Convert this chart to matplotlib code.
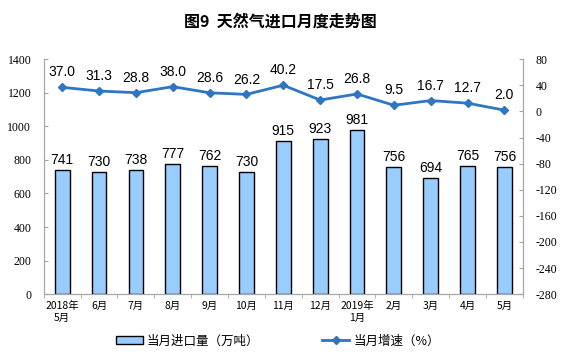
import matplotlib.pyplot as plt
import numpy as np

# Data
months = ['2018年\n5月', '6月', '7月', '8月', '9月', '10月', '11月', '12月',
          '2019年\n1月', '2月', '3月', '4月', '5月']
imports = [741, 730, 738, 777, 762, 730, 915, 923, 981, 756, 694, 765, 756]
growth = [37.0, 31.3, 28.8, 38.0, 28.6, 26.2, 40.2, 17.5, 26.8, 9.5, 16.7, 12.7, 2.0]

cjk = ['Noto Sans CJK SC', 'DejaVu Sans']
plt.rcParams['font.family'] = cjk
plt.rcParams['axes.unicode_minus'] = False

bar_color = '#99CCFF'
line_color = '#2E75C2'
spine_color = '#A6A6A6'

fig = plt.figure(figsize=(5.61, 3.57), dpi=100)
ax = fig.add_axes([0.078, 0.176, 0.854, 0.658])
ax2 = ax.twinx()

x = np.arange(len(months))
bars = ax.bar(x, imports, width=0.4, color=bar_color, edgecolor='black', linewidth=1.0,
              label='当月进口量（万吨）', zorder=2)
for xi, v in zip(x, imports):
    ax.text(xi, v + 18, str(v), ha='center', va='bottom', fontsize=10,
            family='Liberation Sans')

line, = ax2.plot(x, growth, color=line_color, linewidth=2, marker='D', markersize=4.5,
                 label='当月增速（%）', zorder=3)
for xi, v in zip(x, growth):
    ax2.text(xi, v + 12, f'{v:.1f}', ha='center', va='bottom', fontsize=10,
             family='Liberation Sans')

ax.set_xlim(-0.5, len(months) - 0.5)
ax.set_ylim(0, 1400)
ax.set_yticks(range(0, 1401, 200))
ax2.set_ylim(-280, 80)
ax2.set_yticks(range(-280, 81, 40))

ax.set_xticks(x)
ax.set_xticklabels(months, fontsize=7.5)
ax.set_xticks(np.arange(-0.5, len(months), 1), minor=True)
ax.tick_params(axis='x', which='major', length=0, pad=5)
ax.tick_params(axis='x', which='minor', length=3, direction='out', color=spine_color)
ax.tick_params(axis='y', direction='in', length=3, color=spine_color, labelsize=8.5, pad=9)
ax2.tick_params(axis='y', direction='in', length=3, color=spine_color, labelsize=8.5, pad=9)
for lab in ax.get_yticklabels() + ax2.get_yticklabels():
    lab.set_family('Liberation Serif')

for a in (ax, ax2):
    a.spines['top'].set_visible(False)
    for s in ('left', 'right', 'bottom'):
        a.spines[s].set_color(spine_color)

fig.text(0.5, 0.94, '图9  天然气进口月度走势图', ha='center', va='center',
         fontsize=11.5, fontweight='bold')

fig.legend([bars, line], ['当月进口量（万吨）', '当月增速（%）'],
           loc='center', bbox_to_anchor=(0.495, 0.045), ncol=2, frameon=False,
           fontsize=9, columnspacing=5, handlelength=2.2, handletextpad=0.3)

fig.savefig('out.png', dpi=100)
